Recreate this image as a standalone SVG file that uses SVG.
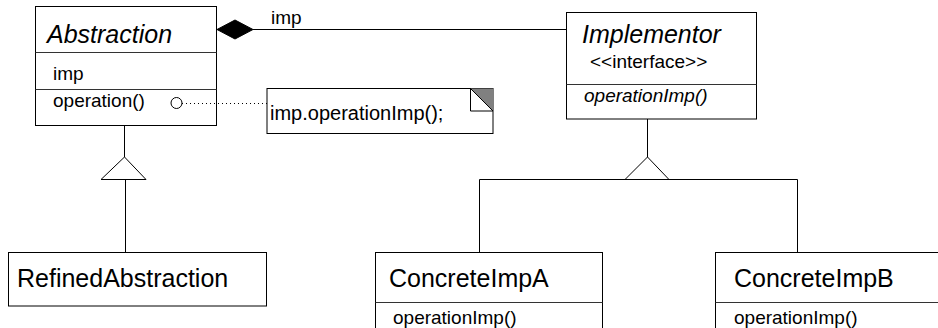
<svg xmlns="http://www.w3.org/2000/svg" width="938" height="328" viewBox="0 0 938 328">
  <style>
    text { font-family: "Liberation Sans", Arial, sans-serif; fill: #000; }
    .title { font-size: 25px; }
    .small { font-size: 19px; }
    .it { font-style: italic; }
    .box { fill: #fff; stroke: #000; stroke-width: 1; }
    .div { stroke: #333; stroke-width: 1; fill: none; }
    .line { stroke: #000; stroke-width: 1; fill: none; }
  </style>
  <rect width="938" height="328" fill="#fff"/>

  <!-- Abstraction -->
  <g id="abstraction">
    <rect class="box" x="35.5" y="6.5" width="181" height="119"/>
    <line class="div" x1="35.5" y1="52.5" x2="216.5" y2="52.5"/>
    <line class="div" x1="35.5" y1="89.5" x2="216.5" y2="89.5"/>
    <text class="title it" x="47" y="43">Abstraction</text>
    <text class="small" x="53" y="80">imp</text>
    <text class="small" x="53" y="107">operation()</text>
  </g>

  <!-- note on operation() -->
  <g id="note">
    <rect class="box" x="267" y="88.5" width="226" height="45"/>
    <polygon points="470.5,88.5 493,88.5 493,111" fill="#808080"/>
    <polyline class="line" points="470.5,88.5 470.5,111 493,111"/>
    <line class="line" x1="470.5" y1="88.5" x2="493" y2="111"/>
    <text x="270" y="120" font-size="20">imp.operationImp();</text>
  </g>

  <!-- Implementor -->
  <g id="implementor">
    <rect class="box" x="566.5" y="12.5" width="190" height="106.5"/>
    <line class="div" x1="566.5" y1="84.5" x2="756.5" y2="84.5"/>
    <text class="title it" x="582" y="43">Implementor</text>
    <text class="small" x="590" y="68">&lt;&lt;interface&gt;&gt;</text>
    <text class="small it" x="584" y="102">operationImp()</text>
  </g>

  <!-- RefinedAbstraction -->
  <g id="refined-abstraction">
    <rect class="box" x="8.5" y="252.5" width="258" height="53.5"/>
    <text class="title" x="17" y="287">RefinedAbstraction</text>
  </g>

  <!-- ConcreteImpA -->
  <g id="concrete-imp-a">
    <rect class="box" x="375.5" y="252.5" width="227" height="90"/>
    <line class="div" x1="375.5" y1="302.5" x2="602.5" y2="302.5"/>
    <text class="title" x="389" y="287">ConcreteImpA</text>
    <text class="small" x="393" y="324">operationImp()</text>
  </g>

  <!-- ConcreteImpB -->
  <g id="concrete-imp-b">
    <rect class="box" x="715.5" y="252.5" width="240" height="90"/>
    <line class="div" x1="715.5" y1="302.5" x2="955" y2="302.5"/>
    <text class="title" x="734" y="287">ConcreteImpB</text>
    <text class="small" x="734" y="324">operationImp()</text>
  </g>

  <!-- connectors, drawn over the boxes -->
  <g id="connectors">
    <!-- composition: Abstraction owns imp -->
    <line class="line" x1="253" y1="29.5" x2="566.5" y2="29.5"/>
    <polygon points="217,29.5 235,20 253,29.5 235,39" fill="#000" stroke="#000" stroke-width="1"/>
    <text class="small" x="271" y="24">imp</text>
    <!-- note attachment -->
    <line x1="182" y1="103.5" x2="267" y2="103.5" stroke="#000" stroke-width="1" stroke-dasharray="1 3"/>
    <circle cx="176.5" cy="103" r="5.5" fill="#fff" stroke="#000" stroke-width="1"/>
    <!-- generalization: RefinedAbstraction -> Abstraction -->
    <line class="line" x1="124.5" y1="125.5" x2="124.5" y2="157"/>
    <polygon points="124.5,157 146,179.5 101,179.5" fill="#fff" stroke="#000" stroke-width="1"/>
    <line class="line" x1="125.5" y1="179.5" x2="125.5" y2="252.5"/>
    <!-- realization: ConcreteImpA/B -> Implementor -->
    <line class="line" x1="647.5" y1="119" x2="647.5" y2="157"/>
    <polygon points="647.5,157 669,179.5 625,179.5" fill="#fff" stroke="#000" stroke-width="1"/>
    <polyline class="line" points="479.5,252.5 479.5,179.5 797.5,179.5 797.5,252.5"/>
  </g>
</svg>
